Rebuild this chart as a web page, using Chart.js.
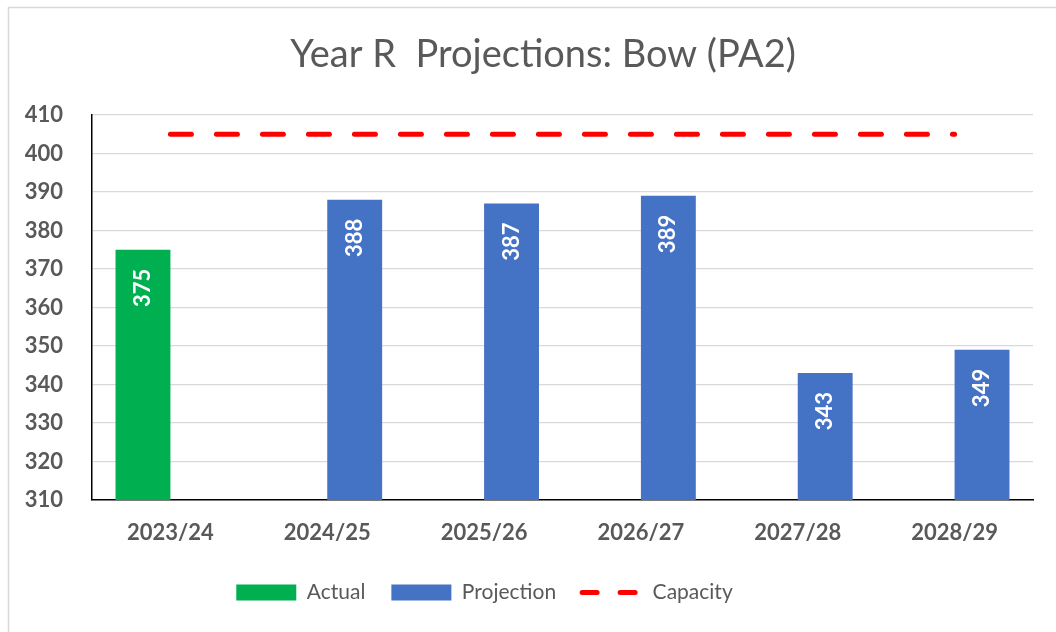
<!DOCTYPE html>
<html>
<head>
<meta charset="utf-8">
<script src="https://cdn.jsdelivr.net/npm/chart.js@4/dist/chart.umd.min.js"></script>
<style>
html,body{margin:0;padding:0;background:#fff;}
canvas{display:block;}
</style>
</head>
<body>
<canvas id="c" width="1056" height="632"></canvas>
<script>
const categories = ['2023/24', '2024/25', '2025/26', '2026/27', '2027/28', '2028/29'];
const actualValues = [375, null, null, null, null, null];
const projectionValues = [null, 388, 387, 389, 343, 349];
const capacityValues = [405, 405, 405, 405, 405, 405];
const yMin = 310;
const yMax = 410;
const yStep = 10;
const titleText = 'Year R  Projections: Bow (PA2)';
const seriesNames = ['Actual', 'Projection', 'Capacity'];

const GREEN = '#00B050', BLUE = '#4472C4', RED = '#FF0000', GREY = '#595959';

const borderPlugin = {
  id: 'outerBorder',
  beforeDraw(chart) {
    const ctx = chart.ctx;
    ctx.save();
    ctx.fillStyle = '#fff';
    ctx.fillRect(0, 0, chart.width, chart.height);
    ctx.strokeStyle = '#d9d9d9';
    ctx.lineWidth = 1.5;
    ctx.beginPath();
    ctx.moveTo(8.5, chart.height);
    ctx.lineTo(8.5, 7.5);
    ctx.lineTo(chart.width, 7.5);
    ctx.stroke();
    ctx.restore();
    // shift title and legend horizontally to match reference centres
    if (chart.titleBlock) { chart.titleBlock.left = 53; chart.titleBlock.right = 1033; }
    if (chart.legend) { chart.legend.left = 0; chart.legend.right = 969; }
  }
};

const labelPlugin = {
  id: 'barLabels',
  afterDatasetsDraw(chart) {
    const ctx = chart.ctx;
    [0, 1].forEach(di => {
      const meta = chart.getDatasetMeta(di);
      meta.data.forEach((bar, i) => {
        const v = chart.data.datasets[di].data[i];
        if (v === null || v === undefined) return;
        ctx.save();
        ctx.translate(bar.x, bar.y + 19);
        ctx.rotate(-Math.PI / 2);
        ctx.textAlign = 'right';
        ctx.textBaseline = 'middle';
        ctx.fillStyle = '#ffffff';
        ctx.font = 'bold 22px Lato';
        ctx.fillText(String(v), 0, 0);
        ctx.restore();
      });
    });
  }
};

Chart.defaults.font.family = 'Lato';

new Chart(document.getElementById('c'), {
  type: 'bar',
  data: {
    labels: categories,
    datasets: [
      { label: seriesNames[0], data: actualValues, backgroundColor: GREEN, borderWidth: 0,
        categoryPercentage: 0.70, barPercentage: 1.0, order: 2 },
      { label: seriesNames[1], data: projectionValues, backgroundColor: BLUE, borderWidth: 0,
        categoryPercentage: 0.70, barPercentage: 1.0, order: 2 },
      { type: 'line', label: seriesNames[2], data: capacityValues, borderColor: RED, backgroundColor: RED,
        borderWidth: 5, borderDash: [21, 25], borderCapStyle: 'round', pointRadius: 0, fill: false, order: 1 }
    ]
  },
  options: {
    responsive: false,
    animation: false,
    devicePixelRatio: 1,
    layout: { padding: { left: 0, right: 23, top: 0, bottom: 19 } },
    scales: {
      x: {
        grid: { display: false, drawTicks: false },
        border: { color: '#000', width: 1.5 },
        ticks: { color: GREY, font: { size: 22, weight: 'bold' }, padding: 20, maxRotation: 0 },
        afterFit(s) { s.height = 56; }
      },
      y: {
        min: yMin, max: yMax,
        grid: { color: '#d9d9d9', lineWidth: 1.2, drawTicks: false },
        border: { color: '#000', width: 1.5 },
        ticks: { stepSize: yStep, color: GREY, font: { size: 22, weight: 'bold' }, padding: 29 },
        afterFit(s) { s.width = 92; }
      }
    },
    plugins: {
      title: {
        display: true, text: titleText, color: GREY,
        font: { size: 38, weight: 'normal' },
        padding: { top: 32.2, bottom: 37.2 }
      },
      legend: {
        position: 'bottom',
        labels: {
          usePointStyle: true, pointStyleWidth: 60, boxHeight: 16,
          padding: 26, color: GREY, font: { size: 21 },
          generateLabels(chart) {
            return chart.data.datasets.map((ds, i) => {
              const isLine = ds.type === 'line';
              return {
                text: ds.label,
                fillStyle: isLine ? ds.borderColor : ds.backgroundColor,
                strokeStyle: isLine ? ds.borderColor : ds.backgroundColor,
                lineWidth: isLine ? 5 : 0,
                lineDash: isLine ? [15, 23] : [],
                lineCap: isLine ? 'round' : 'butt',
                pointStyle: isLine ? 'line' : 'rect',
                fontColor: GREY,
                hidden: false,
                datasetIndex: i
              };
            });
          }
        }
      },
      tooltip: { enabled: false }
    }
  },
  plugins: [borderPlugin, labelPlugin]
});
</script>
</body>
</html>
